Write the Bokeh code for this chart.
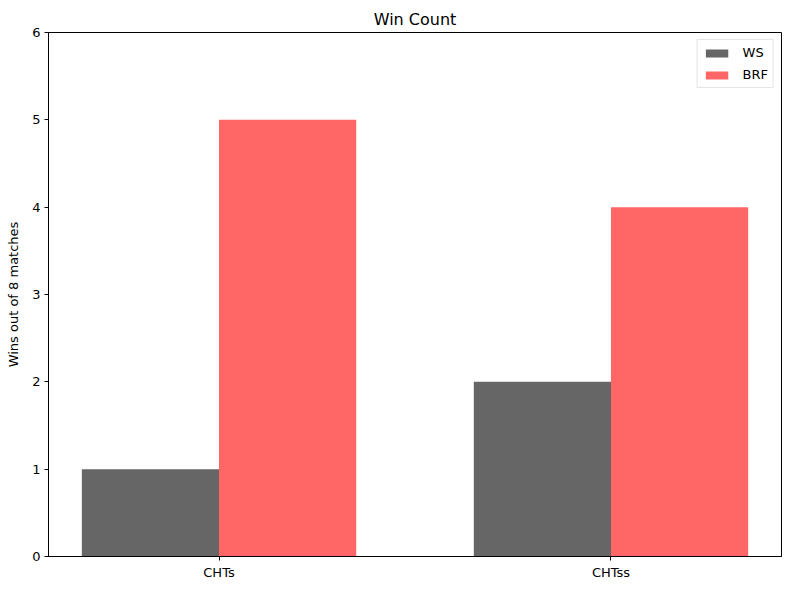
from bokeh.plotting import figure
from bokeh.models import ColumnDataSource, FixedTicker, Range1d, Legend, LegendItem
from bokeh.embed import file_html
from bokeh.resources import INLINE

categories = ["CHTs", "CHTss"]
ws_wins = [1, 2]
brf_wins = [5, 4]
y_ticks = [0, 1, 2, 3, 4, 5, 6]

bar_w = 0.35
xs = list(range(len(categories)))

src = ColumnDataSource(dict(
    x_ws=[x - bar_w / 2 for x in xs],
    x_brf=[x + bar_w / 2 for x in xs],
    ws=ws_wins,
    brf=brf_wins,
))

FONT = "DejaVu Sans"

p = figure(width=790, height=590, output_backend="svg", toolbar_location=None,
           x_range=Range1d(-0.435, 1.435), y_range=Range1d(0, 6),
           title="Win Count",
           min_border_left=48, min_border_right=9, min_border_top=32, min_border_bottom=34)

r_ws = p.vbar(x="x_ws", top="ws", width=bar_w, bottom=0, source=src,
              fill_color="#666666", line_color=None)
r_brf = p.vbar(x="x_brf", top="brf", width=bar_w, bottom=0, source=src,
               fill_color="#ff6666", line_color=None)

p.title.align = "center"
p.title.text_font = FONT
p.title.text_font_size = "16px"
p.title.text_font_style = "normal"
p.title.text_color = "black"
p.title.standoff = 7

p.xgrid.visible = False
p.ygrid.visible = False
p.outline_line_color = "black"
p.outline_line_width = 1
p.outline_line_alpha = 1

p.xaxis.ticker = FixedTicker(ticks=xs)
p.xaxis.major_label_overrides = {i: c for i, c in enumerate(categories)}
p.yaxis.ticker = FixedTicker(ticks=y_ticks)
p.yaxis.axis_label = "Wins out of 8 matches"

for ax in (p.xaxis[0], p.yaxis[0]):
    ax.major_label_text_font = FONT
    ax.major_label_text_font_size = "13px"
    ax.major_label_text_color = "black"
    ax.axis_label_text_font = FONT
    ax.axis_label_text_font_size = "13px"
    ax.axis_label_text_font_style = "normal"
    ax.axis_label_text_color = "black"
    ax.minor_tick_line_color = None
    ax.major_tick_in = 0
    ax.major_tick_out = 4
    ax.major_tick_line_color = "black"
    ax.axis_line_color = "black"
    ax.major_label_standoff = 4
p.yaxis.axis_label_standoff = 8

legend = Legend(items=[LegendItem(label="WS", renderers=[r_ws]),
                       LegendItem(label="BRF", renderers=[r_brf])],
                location="top_right")
legend.label_text_font = FONT
legend.label_text_font_size = "13px"
legend.label_text_color = "black"
legend.border_line_color = "#cccccc"
legend.border_line_width = 1
legend.glyph_width = 28
legend.glyph_height = 10
legend.label_standoff = 12
legend.spacing = 7
legend.padding = 5
legend.margin = 7
legend.label_height = 14
p.add_layout(legend)

open("out.html", "w").write(file_html(p, INLINE))
